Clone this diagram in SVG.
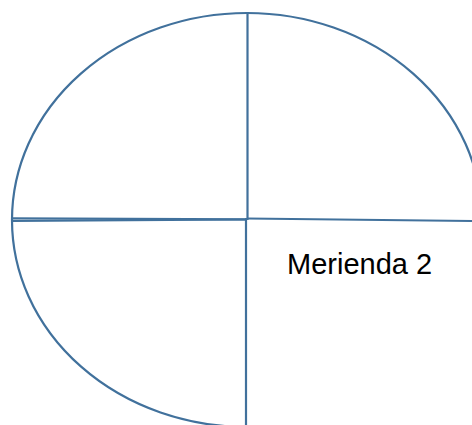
<svg xmlns="http://www.w3.org/2000/svg" width="472" height="425" viewBox="0 0 472 425">
<style>
.ln{fill:none;stroke:#41719C;stroke-width:2.2}
.lbl{font-family:"Liberation Sans",Arial,sans-serif;font-size:29px;fill:#000}
</style>
<rect width="472" height="425" fill="#fff"/>
<g id="outline">
<path class="ln" d="M 247 427 A 235 207 0 0 1 12 220 A 235 207 0 0 1 247 13 A 235 207 0 0 1 482 220"/>
</g>
<g id="connectors">
<line class="ln" x1="247.5" y1="13" x2="247.5" y2="220"/>
<line class="ln" x1="246" y1="218" x2="246" y2="425"/>
<line class="ln" x1="12" y1="218.3" x2="247" y2="219.3"/>
<line class="ln" x1="12" y1="221" x2="247" y2="219.5"/>
<line class="ln" x1="247" y1="218.5" x2="472" y2="221"/>
</g>
<g id="merienda2">
<text class="lbl" x="287" y="274">Merienda 2</text>
</g>
</svg>
